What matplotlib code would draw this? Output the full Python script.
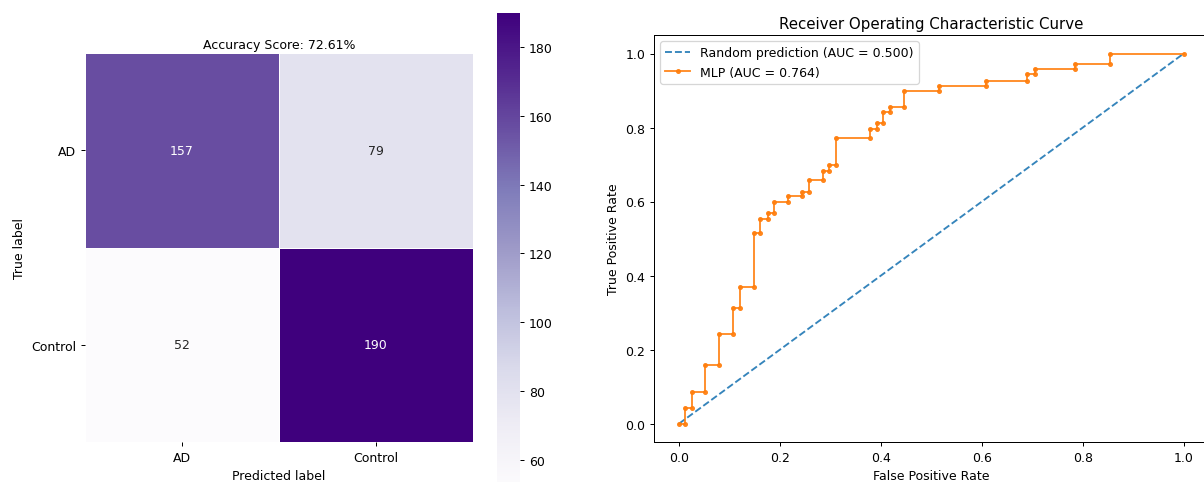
"""Confusion matrix heatmap and ROC curve for the MLP classifier."""

import numpy as np
import matplotlib
matplotlib.use("Agg")
import matplotlib.pyplot as plt

LABEL_NAMES = ["AD", "Control"]
CM = np.array([[157, 79],
               [52, 190]])
ACCURACY = 72.61

FPR = [0.0, 0.012, 0.012, 0.025, 0.025, 0.052, 0.052, 0.079, 0.079, 0.106,
       0.106, 0.121, 0.121, 0.149, 0.149, 0.160, 0.160, 0.175, 0.175, 0.188,
       0.188, 0.215, 0.215, 0.243, 0.243, 0.257, 0.257, 0.284, 0.284, 0.297,
       0.297, 0.310, 0.310, 0.378, 0.378, 0.391, 0.391, 0.404, 0.404, 0.418,
       0.418, 0.446, 0.446, 0.515, 0.515, 0.608, 0.608, 0.690, 0.690, 0.705,
       0.705, 0.784, 0.784, 0.853, 0.853, 1.0]
TPR = [0.0, 0.0, 0.043, 0.043, 0.084, 0.084, 0.159, 0.159, 0.242, 0.242,
       0.313, 0.313, 0.370, 0.370, 0.514, 0.514, 0.553, 0.553, 0.570, 0.570,
       0.600, 0.600, 0.615, 0.615, 0.627, 0.627, 0.657, 0.657, 0.683, 0.683,
       0.699, 0.699, 0.771, 0.771, 0.797, 0.797, 0.811, 0.811, 0.842, 0.842,
       0.855, 0.855, 0.900, 0.900, 0.913, 0.913, 0.927, 0.927, 0.944, 0.944,
       0.957, 0.957, 0.972, 0.972, 1.0, 1.0]
MLP_AUC = 0.764
RANDOM_AUC = 0.500

W, H = 1204, 483
DPI = 90
fig = plt.figure(figsize=(W / DPI, H / DPI), dpi=DPI)


def px_axes(left, top, right, bottom):
    return fig.add_axes([left / W, 1 - bottom / H, (right - left) / W, (bottom - top) / H])


# confusion matrix
ax = px_axes(85, 54, 473, 443)
cax = px_axes(497, 14, 520, 488)
vmin, vmax = CM.min(), CM.max()
im = ax.pcolormesh(CM, cmap="Purples", vmin=vmin, vmax=vmax,
                   edgecolors="white", linewidth=0.8)
ax.set_xlim(0, 2)
ax.set_ylim(2, 0)
for s in ax.spines.values():
    s.set_visible(False)
for i in range(2):
    for j in range(2):
        color = "white" if CM[i, j] > (vmin + vmax) / 2 else "#262626"
        ax.text(j + 0.5, i + 0.5, str(CM[i, j]), ha="center", va="center",
                fontsize=10, color=color)
ax.set_xticks([0.5, 1.5])
ax.set_yticks([0.5, 1.5])
ax.set_xticklabels(LABEL_NAMES, fontsize=10)
ax.set_yticklabels(LABEL_NAMES, fontsize=10, rotation=0)
ax.set_xlabel("Predicted label", fontsize=10)
ax.set_ylabel("True label", fontsize=10)
ax.set_title(f"Accuracy Score: {ACCURACY:.2f}%", fontsize=10, pad=4)

cb = fig.colorbar(im, cax=cax)
cb.outline.set_visible(False)
cb.set_ticks([60, 80, 100, 120, 140, 160, 180])
cb.ax.tick_params(labelsize=10)

# ROC curve
ax2 = px_axes(654, 36, 1209, 443)
ax2.plot([0, 1], [0, 1], linestyle="--", color="#1f77b4", alpha=0.9,
         label=f"Random prediction (AUC = {RANDOM_AUC:.3f})")
ax2.plot(FPR, TPR, marker=".", color="#ff7f0e", alpha=0.9,
         label=f"MLP (AUC = {MLP_AUC:.3f})")
ax2.set_xlim(-0.05, 1.05)
ax2.set_ylim(-0.05, 1.05)
ax2.set_xlabel("False Positive Rate", fontsize=10)
ax2.set_ylabel("True Positive Rate", fontsize=10)
ax2.set_title("Receiver Operating Characteristic Curve", fontsize=12)
ax2.tick_params(labelsize=10)
ax2.legend(loc="upper left", fontsize=10)

fig.savefig("out.png", dpi=DPI)
print("Saved: out.png")
